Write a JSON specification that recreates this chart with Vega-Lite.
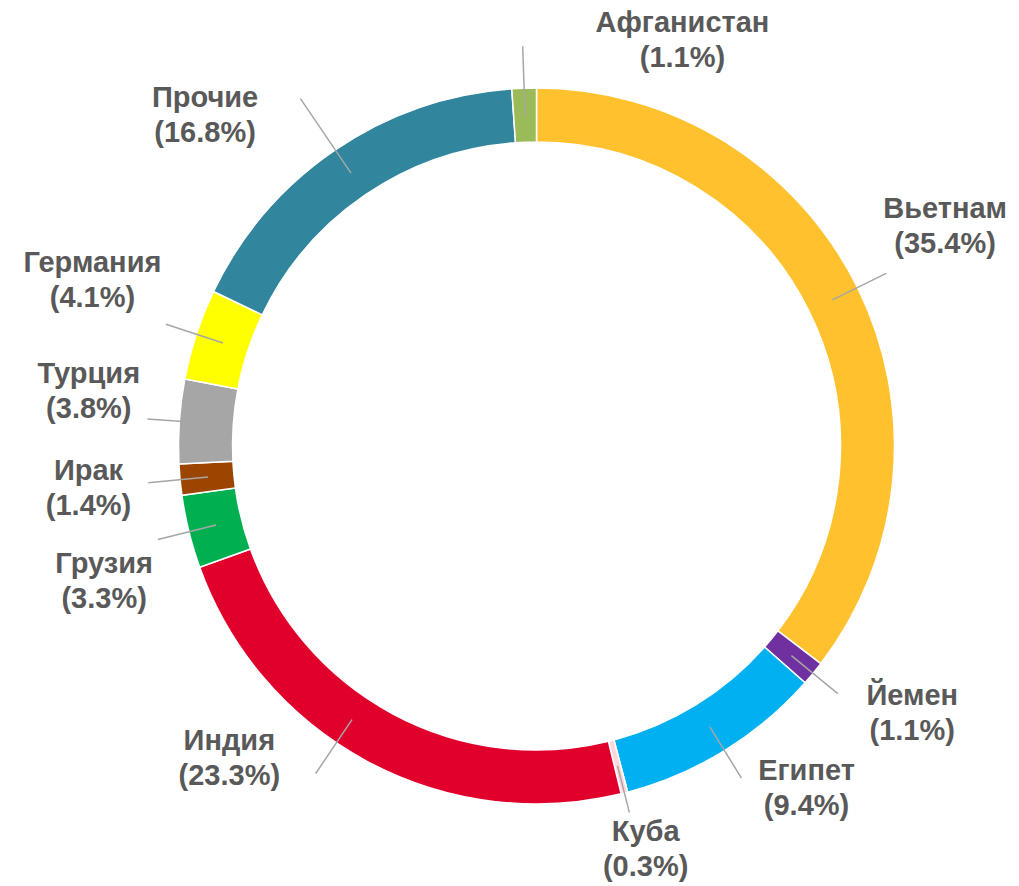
{
  "$schema": "https://vega.github.io/schema/vega-lite/v6.json",
  "width": 965,
  "height": 880,
  "autosize": {"type": "none"},
  "padding": {"left": 54, "top": 6, "right": 0, "bottom": 0},
  "background": "white",
  "config": {
    "view": {"stroke": null},
    "text": {"font": "Liberation Sans", "fontSize": 29, "fontWeight": "bold", "fill": "#595959", "lineBreak": "\n", "lineHeight": 35, "align": "center", "baseline": "middle", "dy": -17.5}
  },
  "data": {
    "values": [
      {"country": "Вьетнам", "pct": 35.4},
      {"country": "Йемен", "pct": 1.1},
      {"country": "Египет", "pct": 9.4},
      {"country": "Куба", "pct": 0.3},
      {"country": "Индия", "pct": 23.3},
      {"country": "Грузия", "pct": 3.3},
      {"country": "Ирак", "pct": 1.4},
      {"country": "Турция", "pct": 3.8},
      {"country": "Германия", "pct": 4.1},
      {"country": "Прочие", "pct": 16.8},
      {"country": "Афганистан", "pct": 1.1}
    ]
  },
  "transform": [
    {"window": [{"op": "row_number", "as": "idx"}]},
    {"calculate": "datum.country + '\\n(' + format(datum.pct, '.1f') + '%)'", "as": "label"}
  ],
  "encoding": {
    "theta": {"field": "pct", "type": "quantitative", "stack": true},
    "order": {"field": "idx", "type": "quantitative"}
  },
  "layer": [
    {
      "mark": {"type": "arc", "innerRadius": 304, "outerRadius": 358, "stroke": "white", "strokeWidth": 1.5},
      "encoding": {
        "color": {
          "field": "country", "type": "nominal", "legend": null,
          "scale": {
            "domain": ["Вьетнам", "Йемен", "Египет", "Куба", "Индия", "Грузия", "Ирак", "Турция", "Германия", "Прочие", "Афганистан"],
            "range": ["#FFC12E", "#7030A0", "#00B0F0", "#FFD6DC", "#E0002B", "#00B050", "#9C4500", "#A6A6A6", "#FFFF00", "#31859C", "#9BBB59"]
          }
        }
      }
    },
    {
      "mark": {"type": "arc", "innerRadius": 330, "outerRadius": 390, "padAngle": 3, "filled": false, "stroke": "#A6A6A6", "strokeWidth": 1.5},
      "encoding": {"strokeOpacity": {"condition": {"test": "indexof(['Афганистан','Куба','Прочие','Индия'], datum.country) < 0", "value": 1}, "value": 0}}
    },
    {
      "mark": {"type": "arc", "innerRadius": 330, "outerRadius": 378, "padAngle": 3, "filled": false, "stroke": "#A6A6A6", "strokeWidth": 1.5},
      "encoding": {"strokeOpacity": {"condition": {"test": "datum.country == 'Куба'", "value": 1}, "value": 0}}
    },
    {
      "mark": {"type": "arc", "innerRadius": 330, "outerRadius": 400, "padAngle": 3, "filled": false, "stroke": "#A6A6A6", "strokeWidth": 1.5},
      "encoding": {"strokeOpacity": {"condition": {"test": "datum.country == 'Афганистан'", "value": 1}, "value": 0}}
    },
    {
      "mark": {"type": "arc", "innerRadius": 330, "outerRadius": 420, "padAngle": 3, "filled": false, "stroke": "#A6A6A6", "strokeWidth": 1.5},
      "encoding": {"strokeOpacity": {"condition": {"test": "datum.country == 'Прочие'", "value": 1}, "value": 0}}
    },
    {
      "mark": {"type": "arc", "innerRadius": 330, "outerRadius": 395, "padAngle": 3, "thetaOffset": 0.1, "theta2Offset": 0.1, "filled": false, "stroke": "#A6A6A6", "strokeWidth": 1.5},
      "encoding": {"strokeOpacity": {"condition": {"test": "datum.country == 'Индия'", "value": 1}, "value": 0}}
    },
    {"mark": {"type": "text", "radius": 464, "thetaOffset": -0.035}, "encoding": {"text": {"condition": {"test": "datum.country == 'Вьетнам'", "field": "label", "type": "nominal"}, "value": ""}}},
    {"mark": {"type": "text", "radius": 461, "thetaOffset": -0.07}, "encoding": {"text": {"condition": {"test": "datum.country == 'Йемен'", "field": "label", "type": "nominal"}, "value": ""}}},
    {"mark": {"type": "text", "radius": 436, "thetaOffset": -0.115}, "encoding": {"text": {"condition": {"test": "datum.country == 'Египет'", "field": "label", "type": "nominal"}, "value": ""}}},
    {"mark": {"type": "text", "radius": 418, "thetaOffset": -0.016}, "encoding": {"text": {"condition": {"test": "datum.country == 'Куба'", "field": "label", "type": "nominal"}, "value": ""}}},
    {"mark": {"type": "text", "radius": 438, "thetaOffset": 0.284}, "encoding": {"text": {"condition": {"test": "datum.country == 'Индия'", "field": "label", "type": "nominal"}, "value": ""}}},
    {"mark": {"type": "text", "radius": 453, "thetaOffset": -0.061}, "encoding": {"text": {"condition": {"test": "datum.country == 'Грузия'", "field": "label", "type": "nominal"}, "value": ""}}},
    {"mark": {"type": "text", "radius": 450, "thetaOffset": 0}, "encoding": {"text": {"condition": {"test": "datum.country == 'Ирак'", "field": "label", "type": "nominal"}, "value": ""}}},
    {"mark": {"type": "text", "radius": 451, "thetaOffset": 0.052}, "encoding": {"text": {"condition": {"test": "datum.country == 'Турция'", "field": "label", "type": "nominal"}, "value": ""}}},
    {"mark": {"type": "text", "radius": 474, "thetaOffset": 0.04}, "encoding": {"text": {"condition": {"test": "datum.country == 'Германия'", "field": "label", "type": "nominal"}, "value": ""}}},
    {"mark": {"type": "text", "radius": 468, "thetaOffset": -0.19}, "encoding": {"text": {"condition": {"test": "datum.country == 'Прочие'", "field": "label", "type": "nominal"}, "value": ""}}},
    {"mark": {"type": "text", "radius": 431, "thetaOffset": 0.38}, "encoding": {"text": {"condition": {"test": "datum.country == 'Афганистан'", "field": "label", "type": "nominal"}, "value": ""}}}
  ]
}
